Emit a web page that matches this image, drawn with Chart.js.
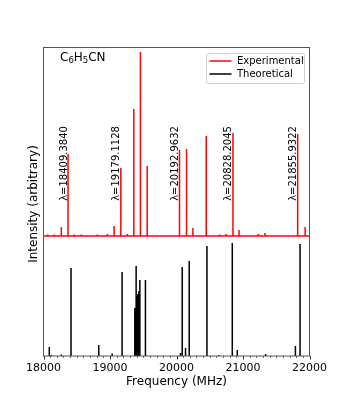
<!DOCTYPE html>
<html lang="en">
<head>
  <meta charset="UTF-8" />
  <title>C6H5CN spectrum</title>
  <script src="https://cdn.jsdelivr.net/npm/chart.js"></script>
  <style>
    * { margin: 0; padding: 0; }
    body { background: #fff; width: 343px; height: 401px; overflow: hidden; }
    #wrap { position: relative; width: 343px; height: 401px; }
  </style>
</head>
<body>
  <div id="wrap"><canvas id="spec" width="343" height="401"></canvas></div>

  <script>
    // experimental lines (MHz) and intensities above the offset baseline
    const expFreq = [18063, 18163, 18268, 18369, 18459, 18569, 18810, 18961, 19062, 19163,
                     19262, 19358, 19458, 19559, 20045, 20151, 20247, 20447, 20648, 20744,
                     20849, 20940, 21230, 21331, 21822, 21934];
    const expInt = [0.015, 0.015, 0.09, 0.82, 0.015, 0.015, 0.015, 0.02, 0.10, 0.68,
                    0.02, 1.27, 1.84, 0.70, 0.86, 0.87, 0.08, 1.00, 0.015, 0.02,
                    1.03, 0.06, 0.02, 0.03, 1.02, 0.09];
    const expOffset = 1.20;

    // theoretical lines
    const theoFreq = [18087, 18117, 18268, 18414, 18831, 19032, 19182, 19373, 19393, 19405,
                      19419, 19435, 19449, 19533, 20060, 20086, 20136, 20191, 20458, 20639,
                      20839, 20914, 21340, 21788, 21858];
    const theoInt = [0.09, 0.01, 0.015, 0.88, 0.11, 0.025, 0.84, 0.48, 0.90, 0.60,
                     0.62, 0.65, 0.76, 0.76, 0.03, 0.89, 0.08, 0.95, 1.10, 0.01,
                     1.13, 0.06, 0.02, 0.10, 1.12];

    // labelled transitions
    const labelFreq = [18369, 19163, 20045, 20849, 21822];
    const labelText = ['λ=18409.3840', 'λ=19179.1128', 'λ=20192.9632', 'λ=20828.2045', 'λ=21855.9322'];
    const labelY = 1.925;

    const xTicks = [18000, 19000, 20000, 21000, 22000];
    const xMin = 18000, xMax = 22000, yMax = 3.085;

    // stick spectra as line paths
    const expPts = [{ x: xMin, y: expOffset }];
    expFreq.forEach((f, i) => {
      expPts.push({ x: f, y: expOffset }, { x: f, y: expOffset + expInt[i] }, { x: f, y: expOffset });
    });
    expPts.push({ x: xMax, y: expOffset });

    const theoPts = [];
    theoFreq.forEach((f, i) => {
      theoPts.push({ x: f, y: 0 }, { x: f, y: theoInt[i] }, { x: f, y: null });
    });

    const FONT = 'DejaVu Sans';

    const extras = {
      id: 'extras',
      afterDraw(chart) {
        const { ctx, chartArea: a, scales } = chart;
        const xs = scales.x, ys = scales.y;
        ctx.save();

        // frame
        ctx.strokeStyle = '#555';
        ctx.lineWidth = 1;
        ctx.strokeRect(a.left, a.top, a.right - a.left, a.bottom - a.top);

        // major / minor ticks
        ctx.strokeStyle = '#333';
        for (let v = xMin; v <= xMax; v += 100) {
          const px = Math.round(xs.getPixelForValue(v)) + 0.5;
          const major = v % 1000 === 0;
          ctx.lineWidth = major ? 1 : 0.7;
          ctx.beginPath();
          ctx.moveTo(px, a.bottom);
          ctx.lineTo(px, a.bottom + (major ? 3.5 : 2));
          ctx.stroke();
        }

        // transition labels
        ctx.fillStyle = '#000';
        ctx.font = '10px "' + FONT + '"';
        ctx.textAlign = 'center';
        ctx.textBaseline = 'alphabetic';
        labelFreq.forEach((f, i) => {
          ctx.save();
          ctx.translate(xs.getPixelForValue(f) - 1.5, ys.getPixelForValue(labelY));
          ctx.rotate(-Math.PI / 2);
          ctx.fillText(labelText[i], 0, 0);
          ctx.restore();
        });

        // molecule name with subscripts
        const parts = [['C', 0], ['6', 1], ['H', 0], ['5', 1], ['CN', 0]];
        let tx = 60;
        ctx.textAlign = 'left';
        parts.forEach(([s, sub]) => {
          ctx.font = (sub ? '8.5px "' : '12px "') + FONT + '"';
          ctx.fillText(s, tx, sub ? 63 : 61);
          tx += ctx.measureText(s).width;
        });

        // axis titles
        ctx.font = '12px "' + FONT + '"';
        ctx.textAlign = 'center';
        ctx.fillText('Frequency (MHz)', (a.left + a.right) / 2, 385);
        ctx.save();
        ctx.translate(37, 204);
        ctx.rotate(-Math.PI / 2);
        ctx.fillText('Intensity (arbitrary)', 0, 0);
        ctx.restore();

        // legend
        const lx = 206, ly = 53, lw = 98, lh = 30;
        ctx.beginPath();
        ctx.roundRect(lx + 0.5, ly + 0.5, lw, lh, 2);
        ctx.fillStyle = 'rgba(255,255,255,0.8)';
        ctx.fill();
        ctx.strokeStyle = '#d0d0d0';
        ctx.lineWidth = 1;
        ctx.stroke();
        const items = [['Experimental', '#ff0000', 61], ['Theoretical', '#000000', 74]];
        ctx.font = '10px "' + FONT + '"';
        ctx.textAlign = 'left';
        ctx.textBaseline = 'middle';
        items.forEach(([name, col, yy]) => {
          ctx.strokeStyle = col;
          ctx.lineWidth = 1.5;
          ctx.beginPath();
          ctx.moveTo(209.5, yy);
          ctx.lineTo(231.5, yy);
          ctx.stroke();
          ctx.fillStyle = '#000';
          ctx.fillText(name, 237, yy);
        });

        ctx.restore();
      }
    };

    new Chart(document.getElementById('spec'), {
      type: 'line',
      data: {
        datasets: [
          {
            label: 'Experimental',
            data: expPts,
            borderColor: '#ff0000',
            borderWidth: 1.5,
            pointRadius: 0,
            tension: 0,
            spanGaps: false
          },
          {
            label: 'Theoretical',
            data: theoPts,
            borderColor: '#000000',
            borderWidth: 1.5,
            pointRadius: 0,
            tension: 0,
            spanGaps: false
          }
        ]
      },
      options: {
        responsive: false,
        animation: false,
        devicePixelRatio: 1,
        layout: { padding: { left: 43.5, right: 33.5, top: 47.5, bottom: 25 } },
        plugins: { legend: { display: false }, tooltip: { enabled: false } },
        scales: {
          x: {
            type: 'linear',
            min: xMin,
            max: xMax,
            afterBuildTicks: (scale) => { scale.ticks = xTicks.map(v => ({ value: v })); },
            afterFit: (scale) => { scale.height = 20; },
            grid: { display: false, drawTicks: false },
            border: { display: false },
            ticks: {
              color: '#000',
              padding: 6,
              maxRotation: 0,
              font: { family: FONT, size: 11 },
              callback: (v) => String(v)
            }
          },
          y: {
            display: false,
            min: 0,
            max: yMax
          }
        }
      },
      plugins: [extras]
    });
  </script>
</body>
</html>
